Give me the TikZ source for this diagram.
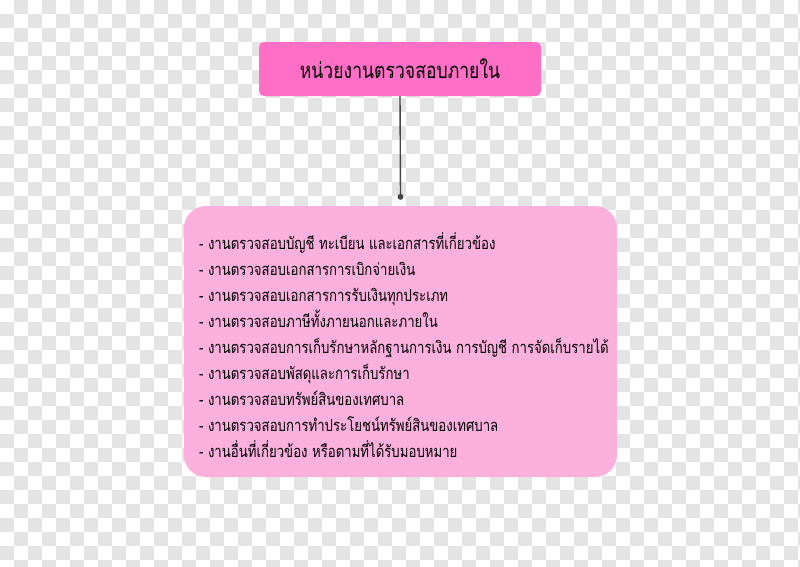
\documentclass[tikz,border=0pt]{standalone}
\usepackage{fontspec}
\newfontfamily\thaifont[Script=Thai,FakeStretch=0.8]{Loma}
\definecolor{chk}{HTML}{E4E4E4}
\definecolor{hotpink}{HTML}{FF6FC6}
\definecolor{lightpink}{HTML}{FBB0DD}
\definecolor{wire}{HTML}{444444}
\tikzset{
  titlebox/.style={fill=hotpink, rounded corners=5pt, minimum width=282pt, minimum height=54pt, inner sep=0pt,
    font=\thaifont\fontsize{22}{24}\selectfont},
  listbox/.style={fill=lightpink, rounded corners=22pt, minimum width=433pt, minimum height=271pt, inner sep=0pt},
  listtext/.style={align=left, inner sep=0pt, font=\thaifont\fontsize{16.5}{26}\selectfont},
  wireline/.style={draw=wire, line width=1.4pt},
  chkcell/.style={fill=chk, draw=none},
}
\begin{document}
\begin{tikzpicture}[x=1pt,y=-1pt]
\useasboundingbox (0,0) rectangle (800,566);
\fill[white] (0,0) rectangle (800,566);
\foreach \a in {0,...,28}{
  \foreach \b in {0,...,20}{
    \path[chkcell] (28*\a+14,28*\b) rectangle +(14,14);
    \path[chkcell] (28*\a,28*\b+14) rectangle +(14,14);
  }
}
\node[titlebox] (title) at (400,69) {หน่วยงานตรวจสอบภายใน};
\node[listbox] (list) at (400.5,341.5) {};
\node[listtext, anchor=west] (items) at (199,345) {%
- งานตรวจสอบบัญชี ทะเบียน และเอกสารที่เกี่ยวข้อง\\
- งานตรวจสอบเอกสารการเบิกจ่ายเงิน\\
- งานตรวจสอบเอกสารการรับเงินทุกประเภท\\
- งานตรวจสอบภาษีทั้งภายนอกและภายใน\\
- งานตรวจสอบการเก็บรักษาหลักฐานการเงิน การบัญชี การจัดเก็บรายได้\\
- งานตรวจสอบพัสดุและการเก็บรักษา\\
- งานตรวจสอบทรัพย์สินของเทศบาล\\
- งานตรวจสอบการทำประโยชน์ทรัพย์สินของเทศบาล\\
- งานอื่นที่เกี่ยวข้อง หรือตามที่ได้รับมอบหมาย};
\coordinate (tip) at ([yshift=9pt]list.north);
\draw[wireline] (title.south) -- (tip);
\fill[wire] (tip) circle (3pt);
\end{tikzpicture}
\end{document}
